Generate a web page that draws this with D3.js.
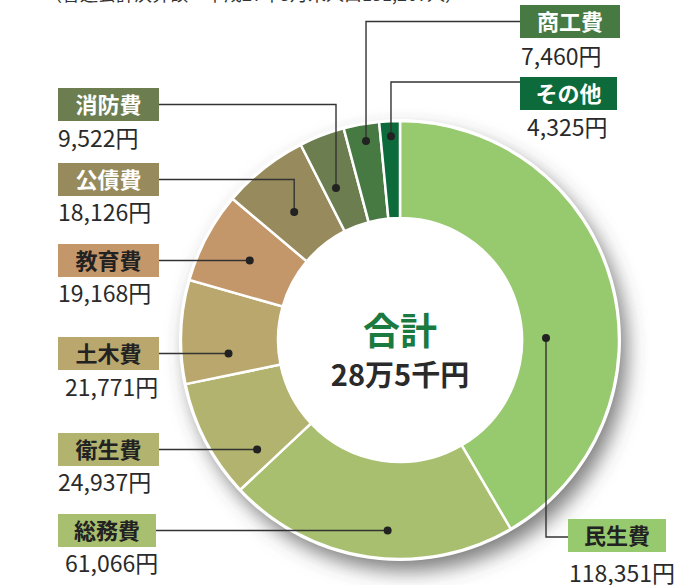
<!DOCTYPE html>
<html><head><meta charset="utf-8">
<script src="https://cdn.jsdelivr.net/npm/d3@7"></script>
<style>
html,body{margin:0;padding:0;background:#fff;}
svg{display:block;font-family:"Noto Sans CJK JP","Noto Sans",sans-serif;}
</style></head>
<body><svg id="c" width="680" height="585"></svg>
<script>
const categories = ["民生費","総務費","衛生費","土木費","教育費","公債費","消防費","商工費","その他"];
const values = [118351,61066,24937,21771,19168,18126,9522,7460,4325];
const colors = ["#97c96f","#a8bf6f","#b1b36e","#b9a76e","#c4976a","#978a5c","#6c7e4f","#477a42","#0d6a3a"];
const textColors = ["#222","#222","#222","#222","#222","#fff","#fff","#fff","#fff"];
const totalLabel = ["合計","28万5千円"];
const noteText = "（普通会計決算額÷平成27年3月末人口131,267人）";

// label layout: box left x, box top y, box width, value x, value baseline
const layout = [
  {bx:568,by:519,bw:98, vx:569,vy:582, side:"R", type:"elbow", ex:546, ly:537},
  {bx:58, by:514,bw:98, vx:65, vy:572, side:"L", type:"h", r:190.9},
  {bx:58, by:433,bw:101,vx:58, vy:491, side:"L", type:"h", r:180},
  {bx:58, by:337,bw:101,vx:65, vy:396, side:"L", type:"h", r:172},
  {bx:58, by:244,bw:101,vx:58, vy:302, side:"L", type:"h", r:170},
  {bx:58, by:163,bw:101,vx:58, vy:221, side:"L", type:"v", r:166, da:-1.2},
  {bx:58, by:88, bw:101,vx:58, vy:147, side:"L", type:"v", r:165, da:-1.9},
  {bx:520,by:5,  bw:100,vx:521,vy:65, side:"R", type:"v", r:202, da:0.5},
  {bx:520,by:77, bw:97, vx:527,vy:136,side:"R", type:"v", r:204, da:0.2, ly:82}
];
const boxH = 33;

const svg = d3.select("#c");
const cx = 400, cy = 340, rOuter = 219, rInner = 122;

const defs = svg.append("defs");
const f = defs.append("filter").attr("id","sh").attr("x","-30%").attr("y","-30%").attr("width","160%").attr("height","160%");
f.append("feDropShadow").attr("dx",7).attr("dy",11).attr("stdDeviation",10).attr("flood-color","#444").attr("flood-opacity",0.7);

// note text (cropped at top)
svg.append("text").attr("x",44).attr("y",1).attr("font-size",18).attr("fill","#333").text(noteText);

const g = svg.append("g").attr("transform",`translate(${cx},${cy})`);
const pie = d3.pie().sort(null).value(d=>d).startAngle(0).endAngle(2*Math.PI);
const arcs = pie(values);
const arc = d3.arc().innerRadius(rInner).outerRadius(rOuter);

g.append("circle").attr("r",rOuter+1).attr("fill","#fff").attr("filter","url(#sh)");
g.selectAll("path.s").data(arcs).join("path").attr("class","s")
  .attr("d",arc).attr("fill",(d,i)=>colors[i]).attr("stroke","#fff").attr("stroke-width",2.5);
g.append("circle").attr("r",rOuter+1).attr("fill","none").attr("stroke","#fff").attr("stroke-width",2);

const lines = svg.append("g");
const deg = Math.PI/180;
arcs.forEach((a,i)=>{
  const L = layout[i];
  const ly = L.ly !== undefined ? L.ly : L.by + boxH/2;
  let dot;
  const mid = (a.startAngle + a.endAngle)/2;
  if (L.type === "elbow") {
    const x = L.ex;
    dot = [x, cy - 2];
    lines.append("polyline").attr("points",`${L.bx},${ly} ${x},${ly} ${x},${dot[1]}`)
      .attr("fill","none").attr("stroke","#333").attr("stroke-width",1.4);
  } else if (L.type === "v") {
    const ang = mid + L.da*deg;
    dot = [cx + L.r*Math.sin(ang), cy - L.r*Math.cos(ang)];
    const startX = L.side==="L" ? L.bx + L.bw : L.bx;
    lines.append("polyline").attr("points",`${startX},${ly} ${dot[0]},${ly} ${dot[0]},${dot[1]}`)
      .attr("fill","none").attr("stroke","#333").attr("stroke-width",1.4);
  } else {
    const dy = ly - cy;
    const x = cx - Math.sqrt(Math.max(0, L.r*L.r - dy*dy));
    dot = [x, ly];
    lines.append("line").attr("x1",L.bx+L.bw).attr("y1",ly).attr("x2",x).attr("y2",ly)
      .attr("stroke","#333").attr("stroke-width",1.4);
  }
  lines.append("circle").attr("cx",dot[0]).attr("cy",dot[1]).attr("r",4).attr("fill","#222");
});

// label boxes
const lab = svg.append("g");
layout.forEach((L,i)=>{
  lab.append("rect").attr("x",L.bx).attr("y",L.by).attr("width",L.bw).attr("height",boxH).attr("fill",colors[i]);
  lab.append("text").attr("x",L.bx+L.bw/2).attr("y",L.by+boxH/2+8).attr("text-anchor","middle")
    .attr("font-size",22).attr("font-weight",700).attr("fill",textColors[i]).text(categories[i]);
  lab.append("text").attr("x",L.vx).attr("y",L.vy).attr("font-size",23).attr("fill","#2a2a2a")
    .text(d3.format(",")(values[i])+"円");
});

// center text
svg.append("text").attr("x",cx).attr("y",345).attr("text-anchor","middle").attr("font-size",37)
  .attr("font-weight",700).attr("fill","#1a7a40").text(totalLabel[0]);
svg.append("text").attr("x",cx).attr("y",386).attr("text-anchor","middle").attr("font-size",29)
  .attr("font-weight",700).attr("fill","#2a2a2a").text(totalLabel[1]);
</script></body></html>
